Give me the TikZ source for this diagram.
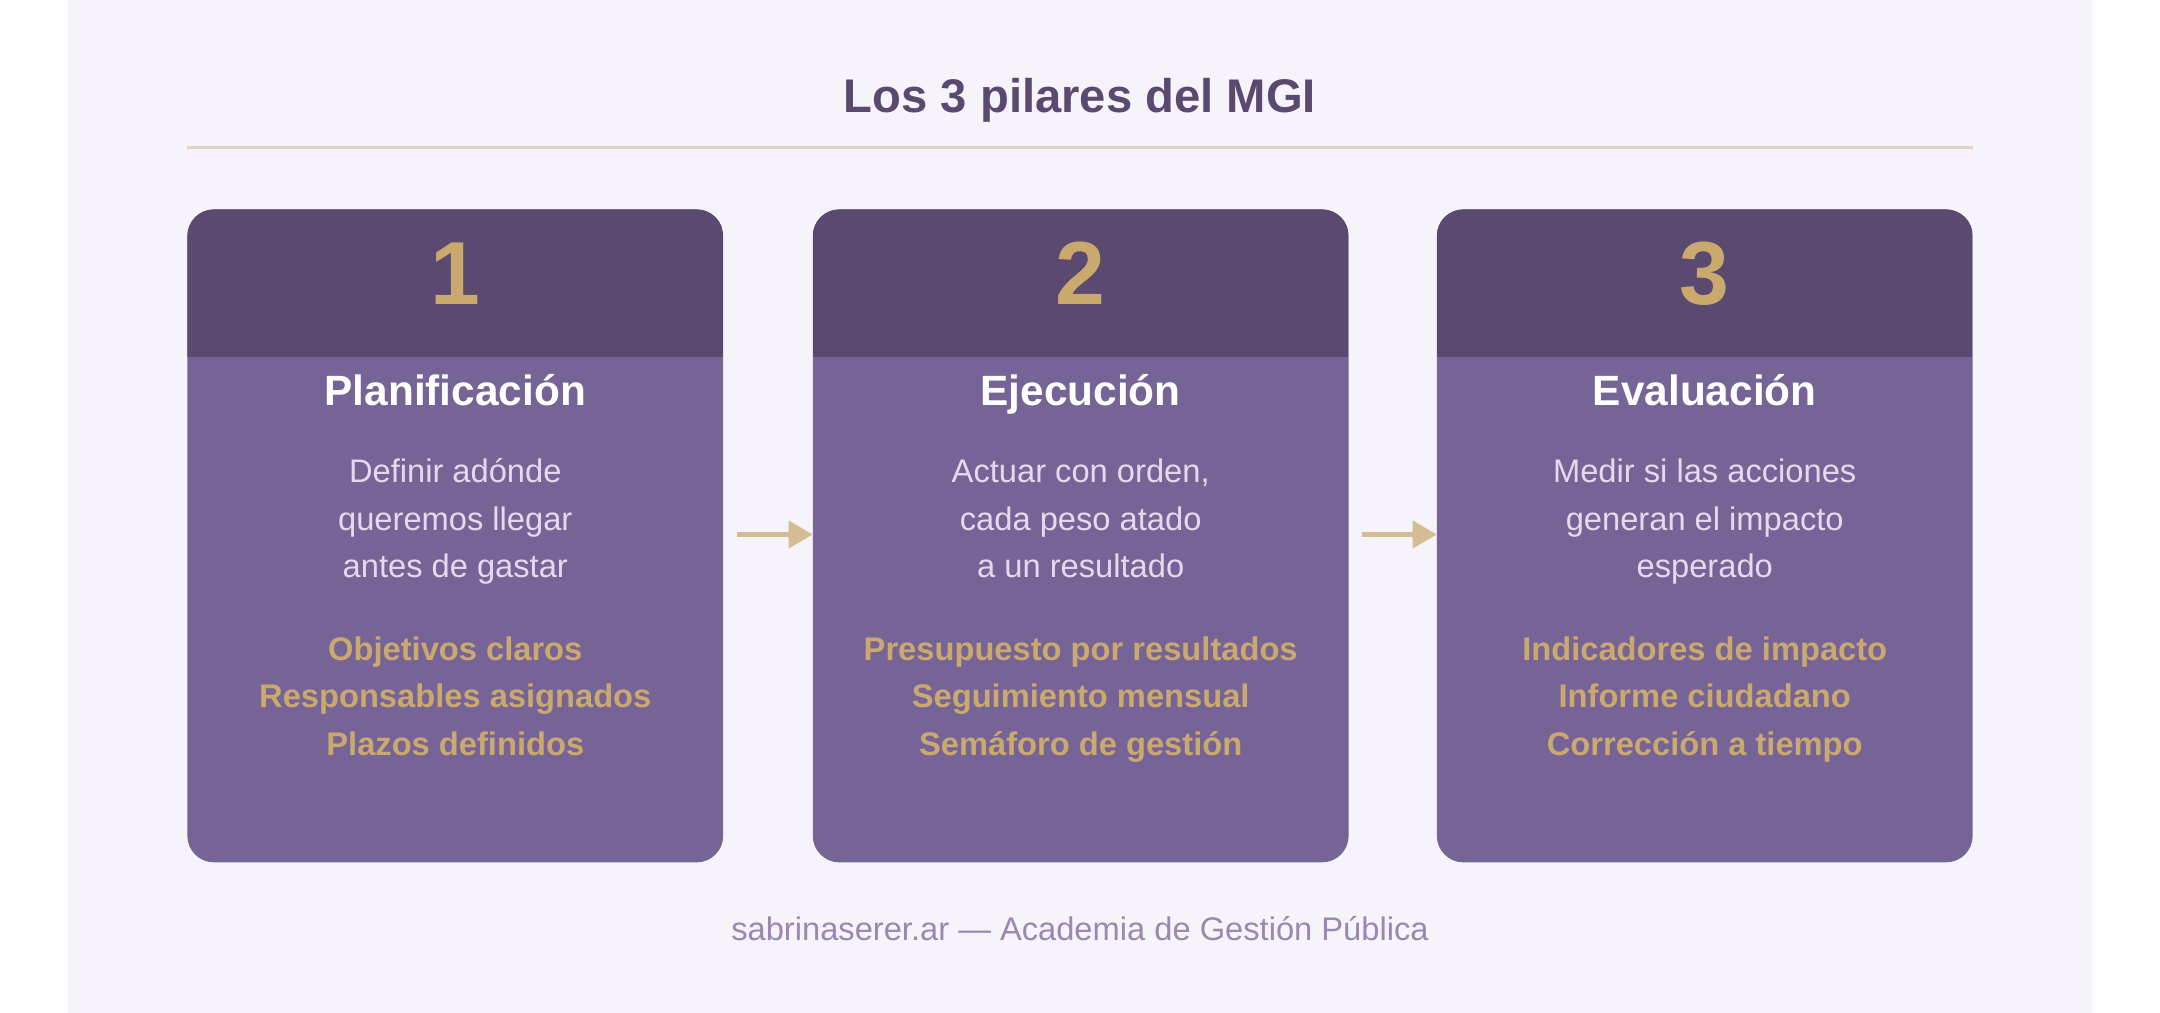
\documentclass[tikz,border=0pt]{standalone}
\usepackage{fontspec}
\setmainfont{Liberation Sans}
\usetikzlibrary{arrows.meta}
\definecolor{bgc}{HTML}{F7F3FA}
\definecolor{dark}{HTML}{5A4A70}
\definecolor{body}{HTML}{776496}
\definecolor{gold}{HTML}{C9A96E}
\definecolor{light}{HTML}{E8D8EE}
\definecolor{rule}{HTML}{E3D3C6}
\definecolor{arr}{HTML}{D4BC94}
\definecolor{foot}{HTML}{9A88B0}
\tikzset{
 num/.style={text=gold,font=\fontsize{37}{40}\selectfont\bfseries,anchor=base},
 ctitle/.style={text=white,font=\fontsize{17.5}{20}\selectfont\bfseries,anchor=base},
 desc/.style={text=light,font=\fontsize{13.5}{19.5}\selectfont,align=center},
 items/.style={text=gold,font=\fontsize{13.5}{19.5}\selectfont\bfseries,align=center},
 conn/.style={arr,line width=2.3pt,-{Triangle[length=10pt,width=11pt]}}
}
\begin{document}
\begin{tikzpicture}[x=0.02cm,y=-0.02cm]
\useasboundingbox (0,0) rectangle (1568,735);
\fill[white] (0,0) rectangle (1568,735);
\fill[bgc] (49,0) rectangle (1519,735);
\node[text=dark,font=\fontsize{19.5}{22}\selectfont\bfseries,anchor=base] (title) at (784,82) {Los 3 pilares del MGI};
\draw[rule,line width=1.2pt] (136,107) -- (1432,107);
\foreach \i/\x/\n/\t/\d/\it in {
 1/136/1/Planificación/{Definir adónde\\queremos llegar\\antes de gastar}/{Objetivos claros\\Responsables asignados\\Plazos definidos},
 2/590/2/Ejecución/{Actuar con orden,\\cada peso atado\\a un resultado}/{Presupuesto por resultados\\Seguimiento mensual\\Semáforo de gestión},
 3/1043/3/Evaluación/{Medir si las acciones\\generan el impacto\\esperado}/{Indicadores de impacto\\Informe ciudadano\\Corrección a tiempo}}{
 \fill[body,rounded corners=11pt] (\x,152) rectangle ++(389,474);
 \begin{scope}
 \clip[rounded corners=11pt] (\x,152) rectangle ++(389,474);
 \fill[dark] (\x,152) rectangle ++(389,107);
 \end{scope}
 \path (\x,152) rectangle ++(389,474) node[pos=0,anchor=north west,minimum width=0.02cm*389,minimum height=0.02cm*474,inner sep=0] (card\i) {};
 \node[num] (n\i) at (\x+194.5,221) {\n};
 \node[ctitle] (t\i) at (\x+194.5,294) {\t};
 \node[desc] (d\i) at (\x+194.5,378) {\strut\d\strut};
 \node[items] (it\i) at (\x+194.5,507) {\strut\it\strut};
}
\draw[conn] (card1.east |- 0,388) ++(9,0) -- (card2.west |- 0,388);
\draw[conn] (card2.east |- 0,388) ++(9,0) -- (card3.west |- 0,388);
\node[text=foot,font=\fontsize{13.5}{16}\selectfont,anchor=base] (footer) at (784,683) {sabrinaserer.ar — Academia de Gestión Pública};
\end{tikzpicture}
\end{document}
